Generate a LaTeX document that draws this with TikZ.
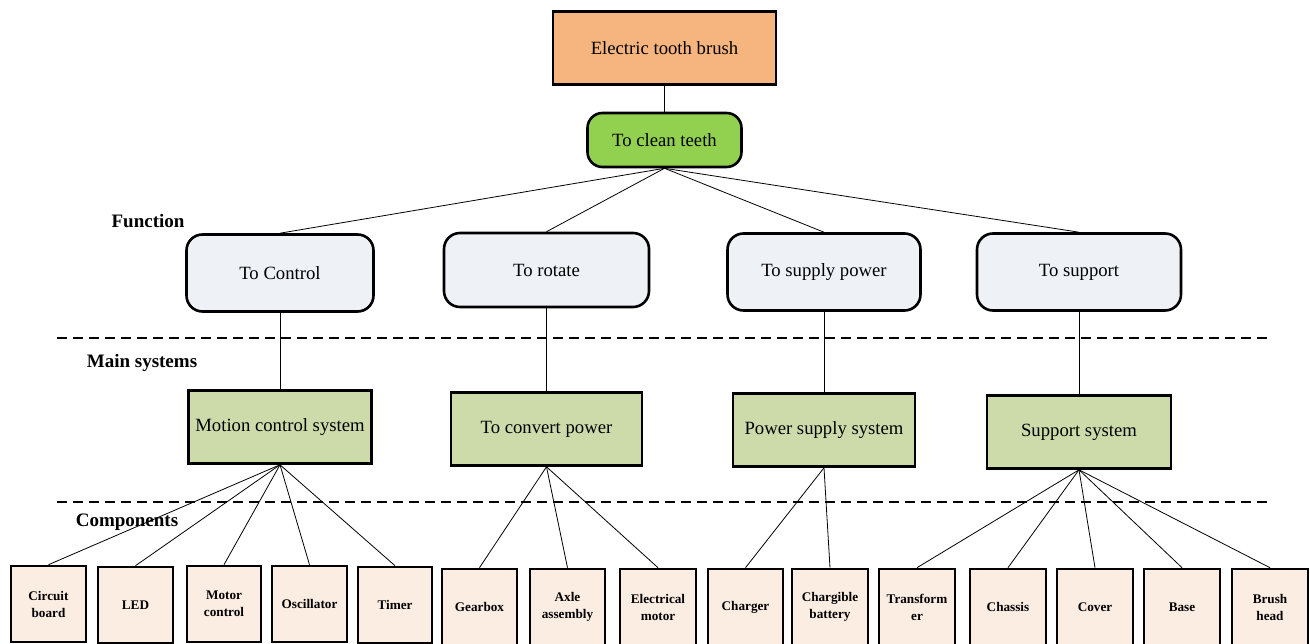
\documentclass[tikz,border=0pt]{standalone}
\usepackage{fontspec}
\setmainfont{Liberation Serif}
\begin{document}
\begin{tikzpicture}[x=1pt,y=-1pt,
  box/.style={draw=black,line width=2.6pt,inner sep=2pt,align=center},
  topbox/.style={box,fill=topfill,minimum width=223pt,minimum height=73pt,font=\fontsize{18.7}{22}\selectfont},
  goalbox/.style={box,fill=goalfill,rounded corners=15pt,minimum width=154pt,minimum height=54pt,font=\fontsize{18.7}{22}\selectfont},
  funcbox/.style={box,fill=funcfill,rounded corners=16pt,minimum height=77pt,font=\fontsize{18.7}{22}\selectfont},
  sysbox/.style={box,fill=sysfill,minimum height=73pt,font=\fontsize{18.7}{22}\selectfont},
  compbox/.style={box,fill=compfill,minimum width=75pt,minimum height=76pt,text width=71pt,font=\bfseries\fontsize{13.2}{17}\selectfont},
  link/.style={draw=black,line width=0.8pt},
  sep/.style={draw=black,line width=1.3pt,dash pattern=on 10pt off 6pt},
  tier/.style={font=\bfseries\fontsize{19}{22}\selectfont,anchor=center}]
\definecolor{topfill}{HTML}{F6B47E}
\definecolor{goalfill}{HTML}{92D050}
\definecolor{funcfill}{HTML}{EEF2F6}
\definecolor{sysfill}{HTML}{CDDBAA}
\definecolor{compfill}{HTML}{FCEDE2}
\useasboundingbox (0,0) rectangle (1310,644);

% tier separators and labels
\draw[sep] (57,338) -- (1268,338);
\draw[sep] (57,502) -- (1268,502);
\node[tier] (lfun) at (148,221) {Function};
\node[tier] (lsys) at (142,363) {Main systems};
\node[tier] (lcmp) at (127,522) {Components};

% product and goal
\node[topbox] (etb) at (664.5,48) {Electric tooth brush};
\node[goalbox] (clean) at (664.5,140) {To clean teeth};

% functions
\node[funcbox,minimum width=187pt] (fctl) at (280,273) {To Control};
\node[funcbox,minimum width=205pt,minimum height=74pt] (frot) at (546.5,270) {To rotate};
\node[funcbox,minimum width=193pt] (fpow) at (824,272) {To supply power};
\node[funcbox,minimum width=204pt] (fsup) at (1079,272) {To support};

% main systems
\node[sysbox,minimum width=183pt] (smc) at (280,427) {Motion control system};
\node[sysbox,minimum width=191pt] (scp) at (546.5,429) {To convert power};
\node[sysbox,minimum width=182pt] (sps) at (824,430) {Power supply system};
\node[sysbox,minimum width=184pt] (ssu) at (1079,432) {Support system};

% components
\node[compbox] (c1) at (48.5,604) {Circuit\\board};
\node[compbox] (c2) at (135.5,605) {LED};
\node[compbox,minimum width=72pt,text width=70pt] (c3) at (224,604) {Motor\\control};
\node[compbox,minimum width=73pt,text width=71pt] (c4) at (309.5,604) {Oscillator};
\node[compbox,minimum width=72pt,text width=70pt] (c5) at (395,605) {Timer};
\node[compbox,minimum width=73pt,text width=71pt] (c6) at (479.5,607) {Gearbox};
\node[compbox] (c7) at (567.5,607) {Axle\\assembly};
\node[compbox,minimum width=76pt] (c8) at (658,607) {Electrical\\motor};
\node[compbox] (c9) at (745.5,607) {Charger};
\node[compbox,minimum width=74pt,text width=72pt] (c10) at (830,607) {Chargible\\battery};
\node[compbox,minimum width=76pt] (c11) at (917,607) {Transform\\er};
\node[compbox,minimum width=76pt] (c12) at (1008,607) {Chassis};
\node[compbox,minimum width=76pt] (c13) at (1095,607) {Cover};
\node[compbox,minimum width=76pt] (c14) at (1182,607) {Base};
\node[compbox,minimum width=76pt] (c15) at (1270,607) {Brush\\head};

% connectors
\draw[link] (etb.south) -- (clean.north);
\foreach \f in {fctl,frot,fpow,fsup} \draw[link] (clean.south) -- (\f.north);
\draw[link] (fctl.south) -- (smc.north);
\draw[link] (frot.south) -- (scp.north);
\draw[link] (fpow.south) -- (sps.north);
\draw[link] (fsup.south) -- (ssu.north);
\foreach \c in {c1,c2,c3,c4,c5} \draw[link] (smc.south) -- (\c.north);
\foreach \c in {c6,c7,c8} \draw[link] (scp.south) -- (\c.north);
\foreach \c in {c9,c10} \draw[link] (sps.south) -- (\c.north);
\foreach \c in {c11,c12,c13,c14,c15} \draw[link] (ssu.south) -- (\c.north);
\end{tikzpicture}
\end{document}
